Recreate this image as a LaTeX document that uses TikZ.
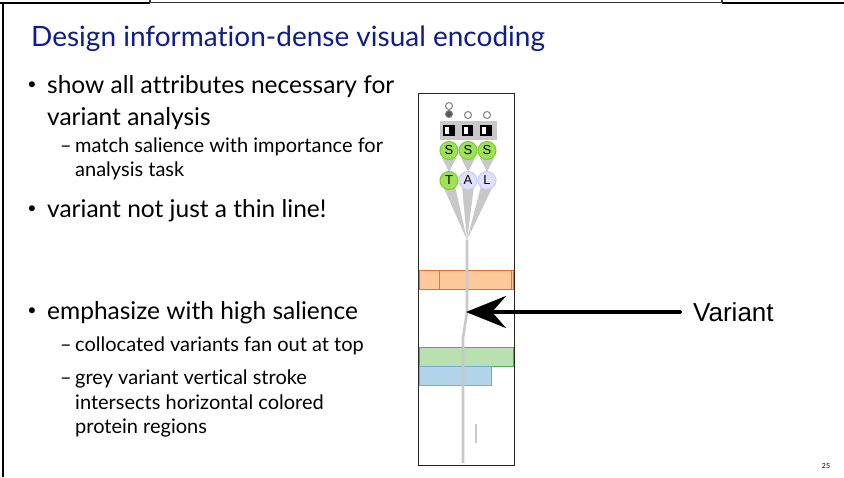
\documentclass[tikz,border=0pt]{standalone}
\usepackage{fontspec}
\setmainfont{Lato}[Ligatures={NoCommon}]
\newfontfamily\helv{Liberation Sans}
\usetikzlibrary{arrows.meta}
\definecolor{titleblue}{RGB}{14,28,140}
\definecolor{fangrey}{RGB}{200,200,200}
\definecolor{sgreen}{RGB}{160,225,90}
\definecolor{sgreenline}{RGB}{120,205,40}
\definecolor{lav}{RGB}{222,224,252}
\definecolor{lavline}{RGB}{200,204,240}
\definecolor{orfill}{RGB}{253,200,155}
\definecolor{orline}{RGB}{236,110,40}
\definecolor{grfill}{RGB}{184,224,176}
\definecolor{grline}{RGB}{80,176,80}
\definecolor{blfill}{RGB}{178,212,232}
\definecolor{blline}{RGB}{110,172,222}
\tikzset{
  bodytext/.style={anchor=base west, inner sep=0pt, font=\fontsize{24.5}{28}\selectfont},
  subtext/.style={anchor=base west, inner sep=0pt, font=\fontsize{20}{23}\selectfont},
  bulletmark/.style={anchor=center, inner sep=0pt, font=\fontsize{16}{16}\selectfont},
  dashmark/.style={anchor=base west, inner sep=0pt, font=\fontsize{20}{23}\selectfont},
  scirc/.style={circle, minimum size=18pt, inner sep=0pt, fill=sgreen, draw=sgreenline, line width=1pt, font=\helv\fontsize{13}{13}\selectfont},
  lcirc/.style={circle, minimum size=18pt, inner sep=0pt, fill=lav, draw=lavline, line width=1pt, font=\helv\fontsize{13}{13}\selectfont},
  opencirc/.style={circle, minimum size=7pt, inner sep=0pt, draw=gray, line width=1pt, fill=white},
  fillcirc/.style={circle, minimum size=7pt, inner sep=0pt, draw=gray, line width=1pt, fill=black!65},
  fanpart/.style={fill=fangrey, draw=none},
  variantstroke/.style={draw=fangrey, line width=2.6pt},
  bigarrow/.style={draw=black, line width=4pt, line cap=round, -{Stealth[length=40pt,width=32pt,inset=14pt]}},
}
\begin{document}
\begin{tikzpicture}[x=1pt,y=-1pt]
\useasboundingbox (0,0) rectangle (844,477);
% slide frame
\draw[line width=2.6pt] (0,3) -- (150,3);
\draw[line width=2.6pt] (722,3) -- (844,3);
\draw[line width=1.3pt, black!80] (150,0) -- (150,2.5) -- (722,2.5) -- (722,0);
\draw[line width=2pt] (3,2) -- (3,477);
% title
\node[anchor=base west, inner sep=0pt, text=titleblue, font=\fontsize{28}{31}\selectfont] (title) at (31,46) {Design information-dense visual encoding};
% bullets
\node[bulletmark] (b1) at (32,86) {•};
\node[bodytext] (t1a) at (47,93) {show all attributes necessary for};
\node[bodytext] (t1b) at (47,125) {variant analysis};
\node[dashmark] (d1) at (60,152) {–};
\node[subtext] (s1a) at (75,152) {match salience with importance for};
\node[subtext] (s1b) at (75,176) {analysis task};
\node[bulletmark] (b2) at (32,210) {•};
\node[bodytext] (t2) at (47,217) {variant not just a thin line!};
\node[bulletmark] (b3) at (32,312) {•};
\node[bodytext] (t3) at (47,319) {emphasize with high salience};
\node[dashmark] (d2) at (60,351) {–};
\node[subtext] (s3a) at (75,351) {collocated variants fan out at top};
\node[dashmark] (d3) at (60,384) {–};
\node[subtext] (s3b) at (75,384) {grey variant vertical stroke};
\node[subtext] (s3c) at (75,409) {intersects horizontal colored};
\node[subtext] (s3d) at (75,433) {protein regions};
% page number
\node[inner sep=0pt, font=\fontsize{7}{7}\selectfont] (pnum) at (826,466) {25};
% diagram frame
\draw[line width=1pt, black!85] (418,93) rectangle (514,465);
% protein regions
\draw[fill=orfill, draw=orline, line width=1pt] (419,270) rectangle (513.5,289);
\draw[draw=orline, line width=1pt] (439,270) -- (439,289);
\draw[draw=orline, line width=1pt] (511.5,270) -- (511.5,289);
\draw[fill=grfill, draw=grline, line width=1pt] (419,347) rectangle (513.5,366);
\draw[fill=blfill, draw=blline, line width=1pt] (419,366) rectangle (491,385);
% fan from T A L to the stroke
\coordinate (apex) at (467,240);
\fill[fanpart] (443,186) -- (455,186) -- (apex) -- cycle;
\fill[fanpart] (462,186) -- (474,186) -- (apex) -- cycle;
\fill[fanpart] (481,186) -- (493,186) -- (apex) -- cycle;
% variant stroke
\draw[variantstroke] (apex) -- (467,312) -- (463,338) -- (463,463);
\draw[draw=fangrey, line width=2pt] (476,424) -- (476,443);
% triangles between S and T/A/L
\fill[fanpart] (442,158) -- (456,158) -- (449,172) -- cycle;
\fill[fanpart] (461,158) -- (475,158) -- (468,172) -- cycle;
\fill[fanpart] (480,158) -- (494,158) -- (487,172) -- cycle;
% grey bar with glyph boxes
\fill[fangrey] (440,121) rectangle (497,140);
\foreach \xx in {443,461.5,480}{
  \fill[black] (\xx,124.5) rectangle ++(11.5,11.5);
  \fill[white] (\xx+2,126.5) rectangle ++(4,7.5);
}
% small circles on top
\node[opencirc] (oc1) at (449,106) {};
\node[fillcirc] (fc1) at (449,114) {};
\node[opencirc] (oc2) at (468,115) {};
\node[opencirc] (oc3) at (487,115) {};
% S circles
\node[scirc] (s1) at (449,150.5) {S};
\node[scirc] (s2) at (468,150.5) {S};
\node[scirc] (s3) at (487,150.5) {S};
% T A L circles
\node[scirc] (c1) at (449,180.5) {T};
\node[lcirc] (c2) at (468,180.5) {A};
\node[lcirc] (c3) at (487,180.5) {L};
% arrow and label
\node[anchor=west, inner sep=0pt, font=\helv\fontsize{26}{26}\selectfont] (var) at (693,312) {Variant};
\coordinate (tip) at (466,312);
\draw[bigarrow] ([xshift=-13pt]var.west) -- (tip);
\end{tikzpicture}
\end{document}
